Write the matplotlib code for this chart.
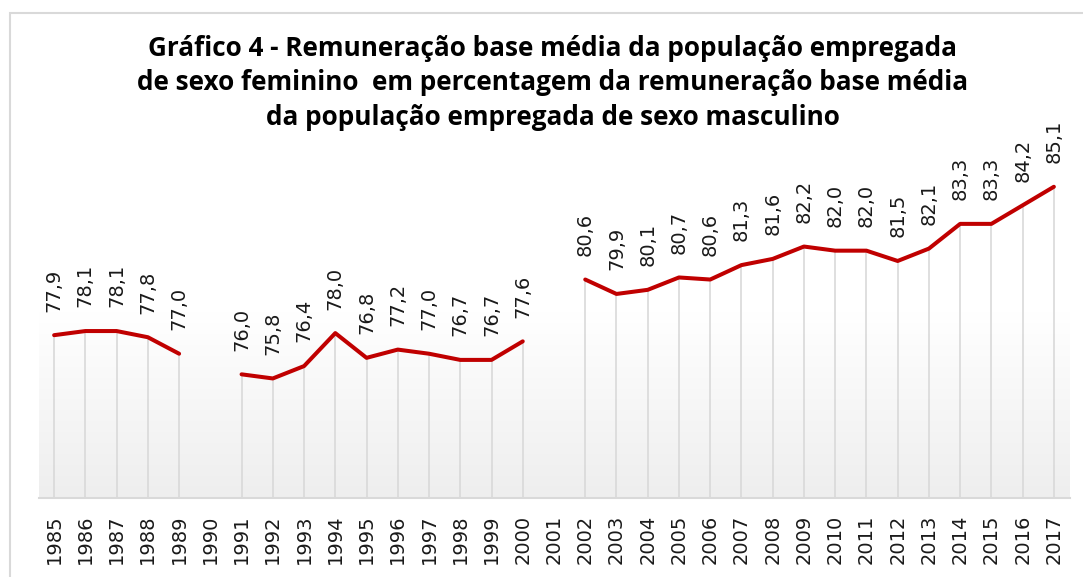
import numpy as np
import matplotlib
matplotlib.use("Agg")
import matplotlib.pyplot as plt
from matplotlib.colors import LinearSegmentedColormap
from matplotlib.patches import Rectangle

years = [str(y) for y in range(1985, 2018)]
values = [77.9, 78.1, 78.1, 77.8, 77.0, np.nan, 76.0, 75.8, 76.4, 78.0,
          76.8, 77.2, 77.0, 76.7, 76.7, 77.6, np.nan, 80.6, 79.9, 80.1,
          80.7, 80.6, 81.3, 81.6, 82.2, 82.0, 82.0, 81.5, 82.1, 83.3,
          83.3, 84.2, 85.1]
title = ("Gráfico 4 - Remuneração base média da população empregada\n"
         "de sexo feminino  em percentagem da remuneração base média\n"
         "da população empregada de sexo masculino")

W, H = 1083, 577
fig = plt.figure(figsize=(W / 100, H / 100), dpi=100)
fig.patch.set_facecolor("white")

# outer chart border (only left/top visible)
fig.patches.append(Rectangle((9.5 / W, -0.1), 1.2, (H - 13) / H + 0.1,
                             transform=fig.transFigure, fill=False,
                             edgecolor="#d9d9d9", lw=1.5))

left, right, top, bottom = 38.5, 1069.5, 127, 498
ax = fig.add_axes([left / W, (H - bottom) / H, (right - left) / W, (bottom - top) / H])

x = np.arange(len(years))
vals = np.array(values, dtype=float)
ymin, ymax = 70, 88

cmap = LinearSegmentedColormap.from_list("g", ["#ffffff", "#ffffff", "#eeeeee"])
ax.imshow(np.linspace(0, 1, 256).reshape(-1, 1), extent=[-0.5, len(years) - 0.5, ymin, ymax],
          aspect="auto", cmap=cmap, zorder=0)

mask = ~np.isnan(vals)
ax.vlines(x[mask], ymin, vals[mask], color="#d9d9d9", lw=1.2, zorder=1)
ax.plot(x, vals, color="#c00000", lw=2.9, zorder=3, solid_capstyle="round",
        solid_joinstyle="round")

for xi, v in zip(x, vals):
    if np.isnan(v):
        continue
    ax.annotate(f"{v:.1f}".replace(".", ","), (xi, v), xytext=(0, 17),
                textcoords="offset points", rotation=90, ha="center", va="bottom",
                fontsize=14, color="#1a1a1a", family="DejaVu Sans", zorder=4)

ax.set_xlim(-0.5, len(years) - 0.5)
ax.set_ylim(ymin, ymax)
ax.set_xticks(x)
ax.set_xticklabels(years, rotation=90, fontsize=14, color="#1a1a1a", family="DejaVu Sans")
ax.tick_params(axis="x", length=0, pad=12)
ax.set_yticks([])
for s in ["left", "right", "top"]:
    ax.spines[s].set_visible(False)
ax.spines["bottom"].set_color("#d9d9d9")
ax.spines["bottom"].set_linewidth(1.5)
ax.spines["bottom"].set_zorder(2)

fig.text(553 / W, 1 - 83 / H, title, ha="center", va="center", fontsize=18.8,
         fontweight="bold", family="Open Sans", linespacing=1.36, color="#000000")

fig.savefig("out.png", dpi=100)
